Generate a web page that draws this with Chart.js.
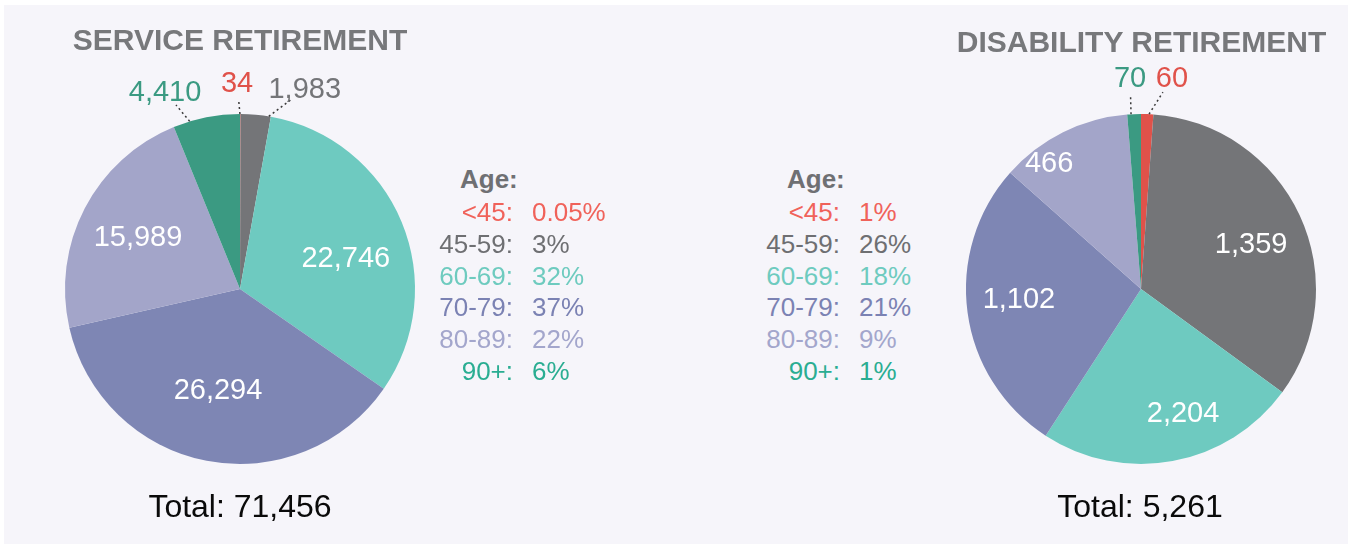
<!DOCTYPE html>
<html>
<head>
<meta charset="utf-8">
<script src="https://cdn.jsdelivr.net/npm/chart.js@4/dist/chart.umd.min.js"></script>
<style>
  html, body { margin:0; padding:0; background:#ffffff; width:1348px; height:544px; overflow:hidden;
    font-family:"Liberation Sans", Arial, sans-serif; }
  #panel { position:absolute; left:4px; top:5px; width:1344px; height:539px; background:#f6f5fa; }
  .cbox { position:absolute; top:0; width:400px; height:544px; }
  .txt { position:absolute; white-space:nowrap; line-height:1; }
  .title { font-weight:bold; font-size:30px; color:#77787b; transform:translateX(-50%); }
  .total { font-size:32px; color:#0a0a0a; transform:translateX(-50%); }
  .leg { font-size:26px; }
  .age { font-weight:bold; color:#6f7073; }
</style>
</head>
<body>
<div id="panel"></div>
<div class="cbox" style="left:40px"><canvas id="service" width="400" height="544"></canvas></div>
<div class="cbox" style="left:941px"><canvas id="disability" width="400" height="544"></canvas></div>
<div id="texts"></div>
<script>
// ---------- data ----------
const ageGroups = ['<45:', '45-59:', '60-69:', '70-79:', '80-89:', '90+:'];
// values printed on the slices
const serviceCounts = [34, 1983, 22746, 26294, 15989, 4410];
const disabilityCounts = [60, 1359, 2204, 1102, 466, 70];
// slice sizes as drawn in the picture (disability pie slices are not proportional to the printed labels)
const serviceSlices = [34, 1983, 22746, 26294, 15989, 4410];
const disabilitySlices = [45, 1350, 960, 1090, 485, 50];
const servicePercents = ['0.05%', '3%', '32%', '37%', '22%', '6%'];
const disabilityPercents = ['1%', '26%', '18%', '21%', '9%', '1%'];
const serviceTitle = 'SERVICE RETIREMENT';
const disabilityTitle = 'DISABILITY RETIREMENT';

// ---------- styles ----------
const sliceColors = ['#e0524a', '#747578', '#6ecac0', '#7e86b4', '#a3a5c9', '#3b9a82'];
const legendColors = ['#f0625a', '#6e6f72', '#6ecbbf', '#7b82b3', '#a3a6cc', '#2aad92'];

// label placement per slice: angle shift (deg), radius factor, outside?, leader start shift (deg)
const servicePlace = [
  {shift:-0.9, r:1.177, out:true, lead:-0.1},
  {shift:12.8, r:1.20, out:true, lead:4.3},
  {shift:6.2, r:0.63},
  {shift:1.3, r:0.59},
  {shift:-0.5, r:0.654},
  {shift:-9.7, r:1.205, out:true, lead:-5.6}
];
const disabilityPlace = [
  {shift:6.3, r:1.22, out:true, lead:0.6},
  {shift:2.6, r:0.68},
  {shift:-8.3, r:0.75},
  {shift:2.9, r:0.70},
  {shift:-9.7, r:0.89},
  {shift:-0.7, r:1.207, out:true, lead:-1.0}
];

const sliceLabels = {
  id: 'sliceLabels',
  afterDatasetsDraw(chart, args, opts) {
    const ctx = chart.ctx;
    const meta = chart.getDatasetMeta(0);
    const ds = chart.data.datasets[0];
    const D = Math.PI / 180;
    meta.data.forEach((arc, i) => {
      const p = opts.place[i];
      const mid = (arc.startAngle + arc.endAngle) / 2;
      const a = mid + p.shift * D;
      const R = arc.outerRadius;
      const lx = arc.x + R * p.r * Math.cos(a);
      const ly = arc.y + R * p.r * Math.sin(a);
      ctx.save();
      if (p.out) {
        const sa = mid + p.lead * D;
        const sx = arc.x + R * Math.cos(sa), sy = arc.y + R * Math.sin(sa);
        const dx = lx - sx, dy = ly - sy, len = Math.hypot(dx, dy);
        const t = Math.max(0, (len - 17) / len);
        ctx.setLineDash([2, 3]);
        ctx.lineWidth = 1.5;
        ctx.strokeStyle = '#3a3a3a';
        ctx.beginPath();
        ctx.moveTo(sx, sy);
        ctx.lineTo(sx + dx * t, sy + dy * t);
        ctx.stroke();
        ctx.fillStyle = ds.backgroundColor[i];
      } else {
        ctx.fillStyle = '#ffffff';
      }
      ctx.setLineDash([]);
      ctx.font = '29px "Liberation Sans", Arial, sans-serif';
      ctx.textAlign = 'center';
      ctx.textBaseline = 'middle';
      ctx.fillText(opts.labels[i].toLocaleString('en-US'), lx, ly + 1);
      ctx.restore();
    });
  }
};

function makePie(id, slices, labels, place) {
  return new Chart(document.getElementById(id), {
    type: 'pie',
    data: {
      labels: ageGroups,
      datasets: [{ data: slices, backgroundColor: sliceColors, borderWidth: 0, hoverOffset: 0 }]
    },
    options: {
      responsive: false,
      animation: false,
      devicePixelRatio: 1,
      layout: { padding: { left: 25, right: 25, top: 114, bottom: 80 } },
      plugins: {
        legend: { display: false },
        tooltip: { enabled: false },
        sliceLabels: { place: place, labels: labels }
      }
    },
    plugins: [sliceLabels]
  });
}
makePie('service', serviceSlices, serviceCounts, servicePlace);
makePie('disability', disabilitySlices, disabilityCounts, disabilityPlace);

// ---------- text ----------
const texts = document.getElementById('texts');
function addText(str, cls, left, baseline, size, color, align) {
  const d = document.createElement('div');
  d.className = 'txt ' + cls;
  d.textContent = str;
  d.style.top = (baseline - 0.8465 * size) + 'px';
  if (align === 'right') { d.style.right = (1348 - left) + 'px'; }
  else { d.style.left = left + 'px'; }
  if (color) d.style.color = color;
  texts.appendChild(d);
  return d;
}
const sum = a => a.reduce((s, v) => s + v, 0);
addText(serviceTitle, 'title', 240, 50, 30);
addText(disabilityTitle, 'title', 1141.5, 52, 30);
addText('Total: ' + sum(serviceCounts).toLocaleString('en-US'), 'total', 240, 517, 32);
addText('Total: ' + sum(disabilityCounts).toLocaleString('en-US'), 'total', 1140, 517, 32);

function legend(ageX, labelRight, valueLeft, percents) {
  addText('Age:', 'leg age', ageX, 188, 26);
  ageGroups.forEach((g, i) => {
    const b = 221 + i * 31.8;
    addText(g, 'leg', labelRight, b, 26, legendColors[i], 'right');
    addText(percents[i], 'leg', valueLeft, b, 26, legendColors[i]);
  });
}
legend(460, 513, 532, servicePercents);
legend(787, 840, 859, disabilityPercents);
</script>
</body>
</html>
